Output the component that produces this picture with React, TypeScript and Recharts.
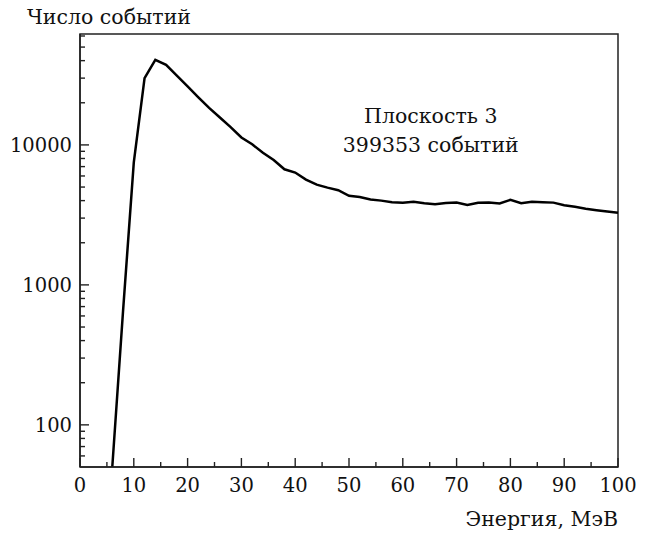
import { LineChart, Line, XAxis, YAxis, ReferenceArea, ReferenceDot } from 'recharts';

const energy = [6, 8, 10, 12, 14, 16, 18, 20, 22, 24, 26, 28, 30, 32, 34, 36, 38, 40, 42, 44, 46, 48, 50, 52, 54, 56, 58, 60, 62, 64, 66, 68, 70, 72, 74, 76, 78, 80, 82, 84, 86, 88, 90, 92, 94, 96, 98, 100];
const counts = [50, 650, 7500, 30000, 40500, 37300, 31300, 26200, 21900, 18400, 15700, 13400, 11300, 10100, 8800, 7800, 6700, 6350, 5650, 5200, 4950, 4750, 4330, 4250, 4080, 4000, 3900, 3860, 3920, 3830, 3770, 3850, 3870, 3730, 3860, 3880, 3820, 4050, 3830, 3920, 3900, 3870, 3710, 3610, 3500, 3420, 3340, 3270];

const xTicks = [0, 5, 10, 15, 20, 25, 30, 35, 40, 45, 50, 55, 60, 65, 70, 75, 80, 85, 90, 95, 100];
const yMajor = [100, 1000, 10000];
const yMinor = [60, 70, 80, 90, 200, 300, 400, 500, 600, 700, 800, 900, 2000, 3000, 4000, 5000, 6000, 7000, 8000, 9000, 20000, 30000, 40000, 50000, 60000];

const data = energy.map((e, i) => ({ e, n: counts[i] }));

const FONT = '"DejaVu Serif", serif';
const W = 649;
const H = 534;
const PL = 80;
const PT = 34;
const PR = 618;
const PB = 467;

const txt = { fontFamily: FONT, fontSize: 20.5, fill: '#111' };
const num = { fontFamily: FONT, fontSize: 19.5, fill: '#111' };

const XTick = (props: any) => {
  const { x, payload } = props;
  const major = payload.value % 10 === 0;
  return (
    <g>
      <line x1={x} x2={x} y1={PB} y2={PB - (major ? 9 : 5)} stroke="#222" strokeWidth={1.4} />
      {major && (
        <text x={x} y={PB + 25} textAnchor="middle" style={num}>
          {payload.value}
        </text>
      )}
    </g>
  );
};

const YTick = (props: any) => {
  const { y, payload } = props;
  const major = yMajor.includes(payload.value);
  return (
    <g>
      <line x1={PL} x2={PL + (major ? 9 : 5)} y1={y} y2={y} stroke="#222" strokeWidth={1.4} />
      {major && (
        <text x={PL - 8} y={y} dy="0.36em" textAnchor="end" style={num}>
          {payload.value}
        </text>
      )}
    </g>
  );
};

export default function App() {
  return (
    <div style={{ position: 'absolute', left: 0, top: 0, width: W, height: H }}>
      <LineChart width={W} height={H} data={data} margin={{ top: PT, right: W - PR, bottom: 0, left: 0 }}>
        <XAxis
          dataKey="e"
          type="number"
          domain={[0, 100]}
          ticks={xTicks}
          interval={0}
          tickLine={false}
          tick={XTick}
          height={H - PB}
          axisLine={{ stroke: '#222', strokeWidth: 1.5 }}
          label={() => (
            <text x={PR} y={526} textAnchor="end" style={txt}>
              Энергия, МэВ
            </text>
          )}
        />
        <YAxis
          type="number"
          scale="log"
          domain={[50, 62000]}
          allowDataOverflow
          ticks={[...yMinor, ...yMajor].sort((a, b) => a - b)}
          interval={0}
          tickLine={false}
          tick={YTick}
          width={PL}
          axisLine={{ stroke: '#222', strokeWidth: 1.5 }}
          label={() => (
            <text x={27} y={24} textAnchor="start" style={txt}>
              Число событий
            </text>
          )}
        />
        <ReferenceArea x1={0} x2={100} y1={50} y2={62000} fill="none" stroke="#222" strokeWidth={1.5} ifOverflow="visible" />
        <Line dataKey="n" stroke="#000" strokeWidth={2.5} dot={false} isAnimationActive={false} />
        <ReferenceDot
          x={65.2}
          y={10000}
          r={0}
          label={(p: any) => {
            const cx = p.viewBox.x;
            const cy = p.viewBox.y;
            return (
              <g>
                <text x={cx} y={cy - 22} textAnchor="middle" style={txt}>
                  Плоскость 3
                </text>
                <text x={cx} y={cy + 7} textAnchor="middle" style={txt}>
                  399353 событий
                </text>
              </g>
            );
          }}
        />
      </LineChart>
    </div>
  );
}
